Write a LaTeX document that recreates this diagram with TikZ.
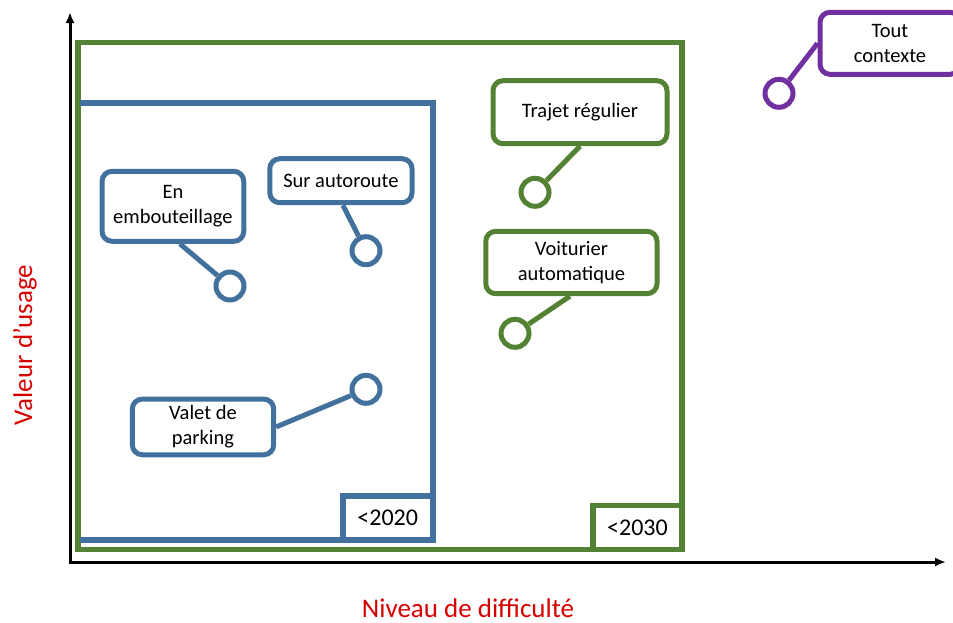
\documentclass[tikz,border=0pt]{standalone}
\usepackage{fontspec}
\setmainfont{Carlito}
\usetikzlibrary{arrows.meta}
\definecolor{cblue}{RGB}{65,113,156}
\definecolor{cgreen}{RGB}{84,130,53}
\definecolor{cpurple}{RGB}{112,48,160}
\definecolor{cred}{RGB}{215,0,0}
\tikzset{
  callout/.style={draw, line width=5pt, rounded corners=10pt, fill=white, align=center,
    inner sep=0pt, font=\fontsize{20.5}{25}\selectfont, text=black},
  pin/.style={draw, circle, line width=5pt, minimum size=28pt, inner sep=0pt, fill=white},
  link/.style={line width=5pt},
  yearbox/.style={draw, line width=6pt, fill=white, inner sep=0pt, font=\fontsize{24}{28}\selectfont},
  axis/.style={line width=3pt, -{Latex[length=11pt,width=9pt]}},
  axislabel/.style={text=cred, inner sep=0pt, font=\fontsize{27}{32}\selectfont}
}
\begin{document}
\begin{tikzpicture}[x=1pt,y=-1pt]
\useasboundingbox (0,0) rectangle (953,622);
\begin{scope}
\clip (0,0) rectangle (953,622);
% axes
\coordinate (O) at (70,562);
\coordinate (Ytop) at (70,12);
\coordinate (Xend) at (946,562);
\draw[axis] ([yshift=1.5pt]O) -- (Ytop);
\draw[axis] ([xshift=-1.5pt]O) -- (Xend);
\node[axislabel] (xl) at (468,608) {Niveau de difficulté};
\node[axislabel, rotate=90] (yl) at (25,345) {Valeur d’usage};

% green region
\draw[cgreen, line width=5.5pt] (78,42.5) rectangle (682,549.5);
% blue region
\draw[cblue, line width=6pt] (80,102.5) -- (432.5,102.5) -- (432.5,539.7) -- (80,539.7);

% year boxes
\node[yearbox, draw=cblue, minimum width=89.5pt, minimum height=43.7pt] (y2020) at (387.75,517.85) {<2020};
\node[yearbox, draw=cgreen, line width=5.5pt, minimum width=89pt, minimum height=44pt] (y2030) at (637.5,527.5) {<2030};

% blue callouts
\node[pin, draw=cblue] (c1) at (230,286) {};
\node[callout, draw=cblue, minimum width=141.7pt, minimum height=70pt] (emb) at (172.9,206.3) {En\\embouteillage};
\draw[link, cblue] ([xshift=7pt]emb.south) -- (c1);

\node[pin, draw=cblue] (c2) at (366,250.7) {};
\node[callout, draw=cblue, minimum width=142.3pt, minimum height=44pt] (sur) at (340.9,180.7) {Sur autoroute};
\draw[link, cblue] ([xshift=2pt]sur.south) -- (c2);

\node[pin, draw=cblue] (c3) at (366,389.3) {};
\node[callout, draw=cblue, minimum width=141.4pt, minimum height=55.7pt] (val) at (203,426.9) {Valet de\\parking};
\draw[link, cblue] (val.east) -- (c3);

% green callouts
\node[pin, draw=cgreen] (c4) at (535,192.3) {};
\node[callout, draw=cgreen, minimum width=174pt, minimum height=63pt] (traj) at (580,112.2) {Trajet régulier};
\draw[link, cgreen] (traj.south) -- (c4);

\node[pin, draw=cgreen] (c5) at (515,333.3) {};
\node[callout, draw=cgreen, minimum width=171.3pt, minimum height=62.4pt] (voit) at (571.4,262.5) {Voiturier\\automatique};
\draw[link, cgreen] ([xshift=-1.5pt]voit.south) -- (c5);

% purple callout
\node[pin, draw=cpurple] (c6) at (779,93.3) {};
\node[callout, draw=cpurple, minimum width=140pt, minimum height=62pt] (tout) at (890,43.3) {Tout\\contexte};
\draw[link, cpurple] (tout.west) -- (c6);
\end{scope}
\end{tikzpicture}
\end{document}
